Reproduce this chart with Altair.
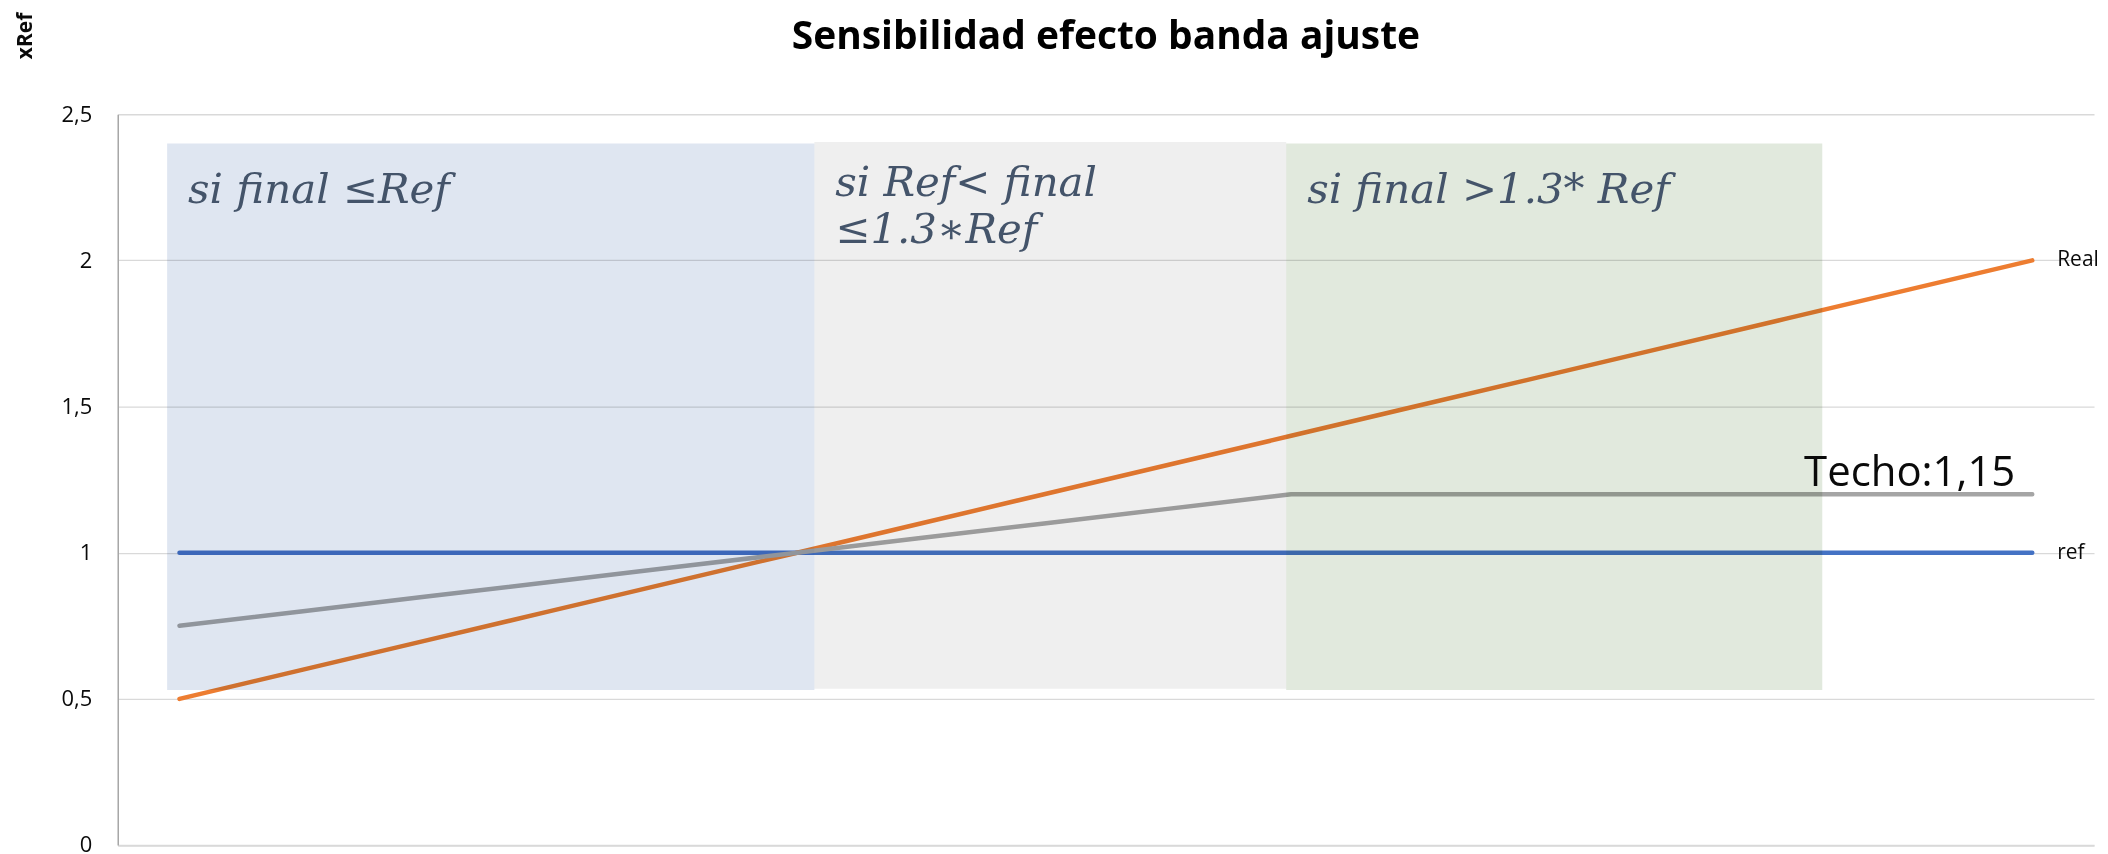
import altair as alt
import pandas as pd

# ---- data ----
idx = [0, 1, 2, 3, 4, 5, 6, 7, 8, 9, 10, 11, 12, 13, 14, 15]
real = [0.5, 0.6, 0.7, 0.8, 0.9, 1.0, 1.1, 1.2, 1.3, 1.4, 1.5, 1.6, 1.7, 1.8, 1.9, 2.0]
ajuste = [0.75, 0.8, 0.85, 0.9, 0.95, 1.0, 1.05, 1.1, 1.15, 1.2, 1.2, 1.2, 1.2, 1.2, 1.2, 1.2]
ref = [1.0, 1.0, 1.0, 1.0, 1.0, 1.0, 1.0, 1.0, 1.0, 1.0, 1.0, 1.0, 1.0, 1.0, 1.0, 1.0]

box_names = ["b1", "b2", "b3"]
box_x0 = [-0.1, 5.14, 8.96]
box_x1 = [5.14, 8.96, 13.3]
box_y0 = [0.53, 0.535, 0.53]
box_y1 = [2.40, 2.405, 2.40]
box_colors = ["#DFE6F1", "#EFEFEF", "#E1E9DD"]
box_labels = ["si final \u2264Ref", "si Ref< final\n\u22641.3\u2217Ref", "si final >1.3* Ref"]

y_ticks = [0, 0.5, 1, 1.5, 2, 2.5]
title_text = "Sensibilidad efecto banda ajuste"
y_title = "xRef"
techo_label = "Techo:1,15"

# ---- shared scales/axes ----
xscale = alt.Scale(domain=[-0.5, 15.5], nice=False, zero=False)
yscale = alt.Scale(domain=[0, 2.5], nice=False, zero=False)
xaxis = alt.Axis(labels=False, ticks=False, grid=False, domainColor="#D9D9D9",
                 domainWidth=1.5, title=None)
yaxis = alt.Axis(values=y_ticks, labelExpr="replace(format(datum.value, ''), '.', ',')",
                 grid=True, gridColor="#D9D9D9", gridWidth=1.3, ticks=False,
                 domainColor="#A6A6A6", domainWidth=1.5, labelPadding=26,
                 labelFont="Open Sans", labelFontSize=22, labelColor="#0a0a0a",
                 title=y_title, titleFont="Open Sans", titleFontSize=21,
                 titleFontWeight="bold", titleColor="#0a0a0a", titleAngle=270,
                 titleX=-92, titleY=-79, titleAlign="center", titleBaseline="middle")


def X(f):
    return alt.X(f, type="quantitative", scale=xscale, axis=xaxis, title=None)


def Y(f):
    return alt.Y(f, type="quantitative", scale=yscale, axis=yaxis, title=y_title)


def line_layer(vals, color):
    df = pd.DataFrame({"x": idx, "y": vals})
    return alt.Chart(df).mark_line(color=color, strokeWidth=4.5, strokeCap="round",
                                   strokeJoin="round").encode(x=X("x"), y=Y("y"))


l_ref = line_layer(ref, "#4472C4")
l_real = line_layer(real, "#ED7D31")
l_aj = line_layer(ajuste, "#A5A5A5")

boxes_df = pd.DataFrame({"name": box_names, "x": box_x0, "x2": box_x1,
                         "y": box_y0, "y2": box_y1, "label": box_labels,
                         "top": box_y1})
boxes = alt.Chart(boxes_df).mark_rect(blend="multiply").encode(
    x=X("x"), x2="x2", y=Y("y"), y2="y2",
    color=alt.Color("name:N", scale=alt.Scale(domain=box_names, range=box_colors), legend=None),
)

txt_style = dict(font="DejaVu Serif", fontStyle="italic", fontSize=42, color="#44546A",
                 align="left", baseline="alphabetic", lineHeight=47, lineBreak="\n", dx=21)
box_txt_13 = alt.Chart(boxes_df[boxes_df["name"] != "b2"]).mark_text(dy=60, **txt_style).encode(
    x=X("x"), y=Y("top"), text="label:N")
box_txt_2 = alt.Chart(boxes_df[boxes_df["name"] == "b2"]).mark_text(dy=54, **txt_style).encode(
    x=X("x"), y=Y("top"), text="label:N")

end_df = pd.DataFrame({"x": [idx[-1], idx[-1]], "y": [real[-1], ref[-1]], "t": ["Real", "ref"]})
end_txt = alt.Chart(end_df).mark_text(font="Open Sans", fontSize=21, color="#0a0a0a",
                                      align="left", baseline="middle", dx=25).encode(
    x=X("x"), y=Y("y"), text="t:N")

techo_df = pd.DataFrame({"x": [idx[-1]], "y": [ajuste[-1]], "t": [techo_label]})
techo_txt = alt.Chart(techo_df).mark_text(font="Open Sans", fontSize=42, color="#0a0a0a",
                                          align="right", baseline="alphabetic", dx=-17, dy=-8).encode(
    x=X("x"), y=Y("y"), text="t:N")

chart = alt.layer(l_ref, l_real, l_aj, boxes, box_txt_13, box_txt_2, end_txt, techo_txt).properties(
    width=1981, height=732.5,
    title=alt.TitleParams(title_text, font="Open Sans", fontSize=39, fontWeight="bold",
                          color="#000000", anchor="middle", baseline="alphabetic", offset=0, dy=76),
    autosize=alt.AutoSizeParams(type="none"),
    padding={"left": 110, "top": 105.5, "right": 6, "bottom": 8},
    background="white",
).configure_view(stroke=None)

chart.save("out.html", embed_options={"renderer": "svg", "actions": False})
